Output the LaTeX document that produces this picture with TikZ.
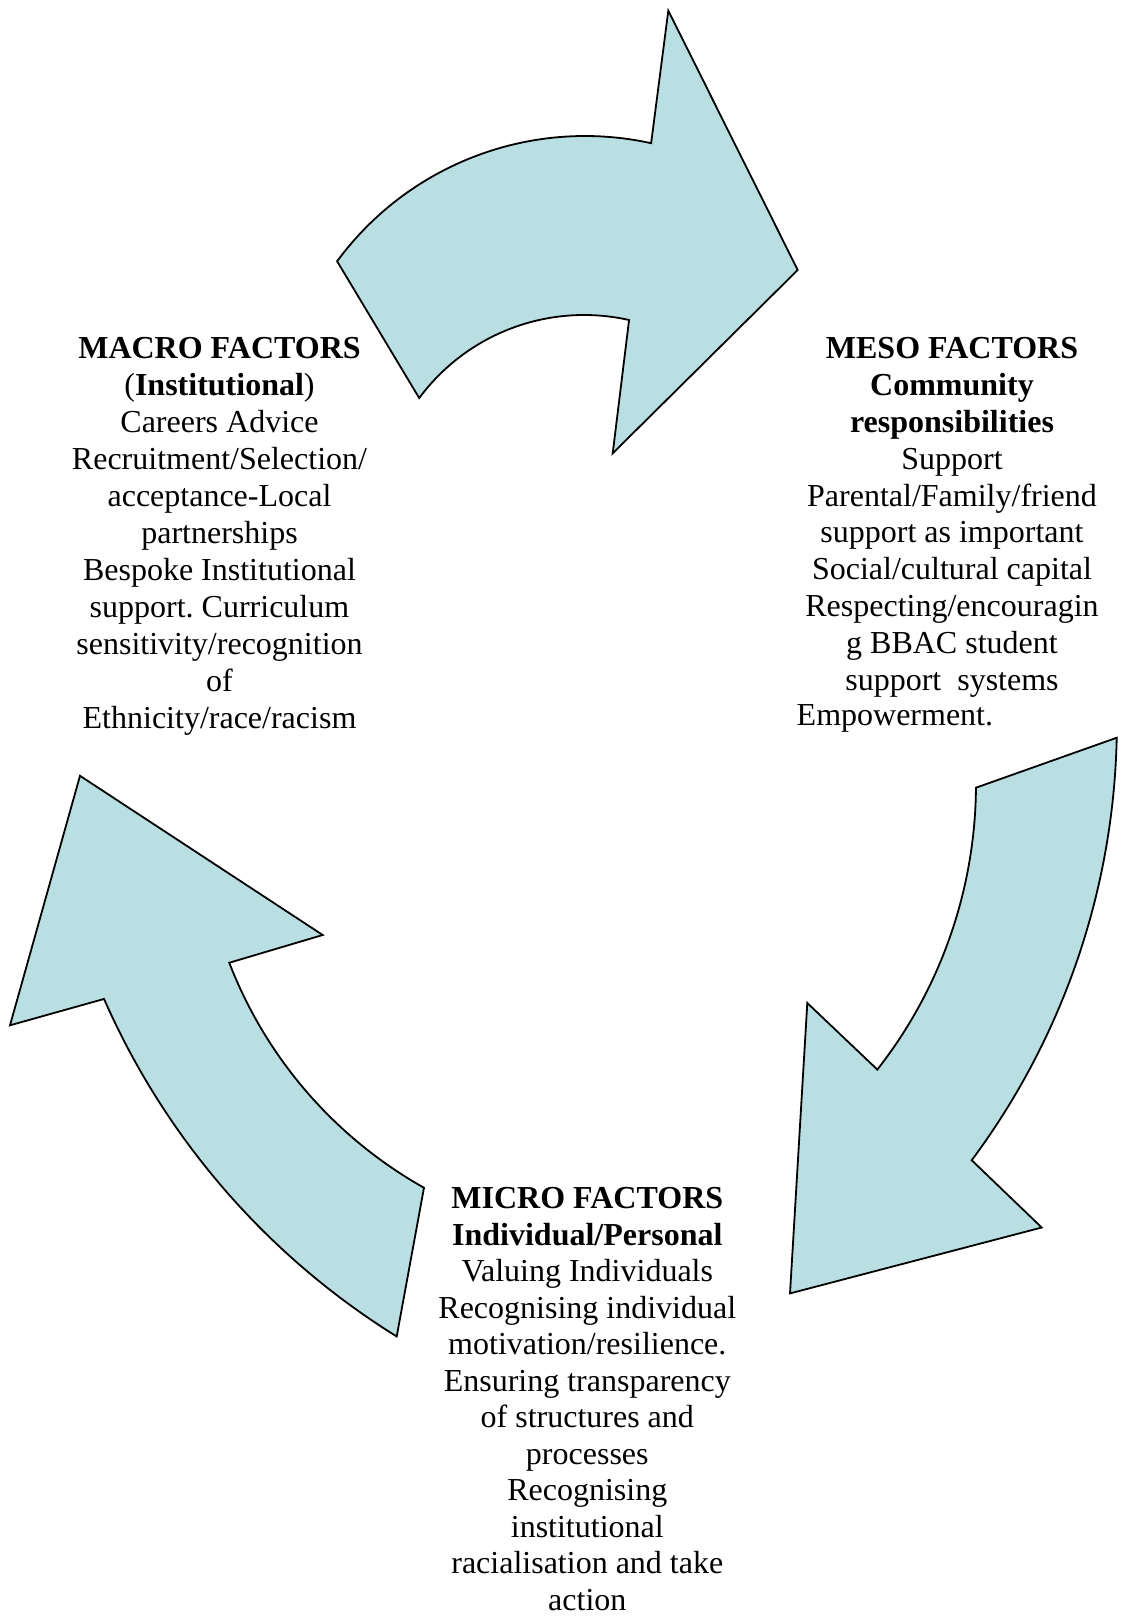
\documentclass[tikz,border=0pt]{standalone}
\usepackage{fontspec}
\setmainfont{Liberation Serif}
\usetikzlibrary{calc}
\definecolor{arrowfill}{HTML}{B9DFE3}
\frenchspacing
\begin{document}
\begin{tikzpicture}[x=1pt,y=-1pt,
  bigarrow/.style={fill=arrowfill,draw=black,line width=1.8pt,line join=miter},
  factor/.style={align=center,inner sep=0pt,font=\fontsize{32}{36.8}\selectfont}]
\useasboundingbox (0,0) rectangle (1120,1616);

% top arrow (macro -> meso)
\coordinate (tOc) at (585,444);
\coordinate (tIc) at (584,520);
\draw[bigarrow] ($(tOc)+(-143.6:308)$) arc[start angle=-143.6,end angle=-77.6,radius=308]
  -- (668.3,10.7) -- (797.7,270) -- (612.7,453.3) -- ($(tIc)+(-77.3:205)$)
  arc[start angle=-77.3,end angle=-143.5,radius=205] -- cycle;

% right arrow (meso -> micro)
\coordinate (rOc) at (384.1,722.4);
\coordinate (rIc) at (513.1,783.9);
\draw[bigarrow] ($(rOc)+(1.2:732.8)$) arc[start angle=1.2,end angle=36.69,radius=732.8]
  -- (1041.7,1227.5) -- (790,1293.4) -- (807.3,1003) -- ($(rIc)+(38.11:462.9)$)
  arc[start angle=38.11,end angle=0.47,radius=462.9] -- cycle;

% left arrow (micro -> macro)
\coordinate (lIc) at (639.1,804.85);
\coordinate (lOc) at (794.5,695.85);
\draw[bigarrow] ($(lIc)+(119.33:439.2)$) arc[start angle=119.33,end angle=158.93,radius=439.2]
  -- (322.7,935) -- (80,775.8) -- (10,1025.3) -- ($(lOc)+(156.3:754.1)$)
  arc[start angle=156.3,end angle=121.84,radius=754.1] -- cycle;

\node[factor,anchor=north,font=\fontsize{32}{37}\selectfont] (macro) at (219.5,337.5)
  {\textbf{MACRO FACTORS}\\(\textbf{Institutional})\\Careers Advice\\Recruitment/Selection/\\acceptance-Local\\partnerships\\Bespoke Institutional\\support. Curriculum\\sensitivity/recognition\\of\\Ethnicity/race/racism};

\node[factor,anchor=north] (meso) at (952,337.5)
  {\textbf{MESO FACTORS}\\\textbf{Community}\\\textbf{responsibilities}\\Support\\Parental/Family/friend\\support as important\\Social/cultural capital\\Respecting/encouragin\\g BBAC student\\support~~systems};
\node[factor,anchor=base west] (mesoend) at (796.5,725) {Empowerment.};

\node[factor,anchor=north,font=\fontsize{32}{36.5}\selectfont] (micro) at (587.3,1187.5)
  {\textbf{MICRO FACTORS}\\\textbf{Individual/Personal}\\Valuing Individuals\\Recognising individual\\motivation/resilience.\\Ensuring transparency\\of structures and\\processes\\Recognising\\institutional\\racialisation and take\\action};
\end{tikzpicture}
\end{document}
